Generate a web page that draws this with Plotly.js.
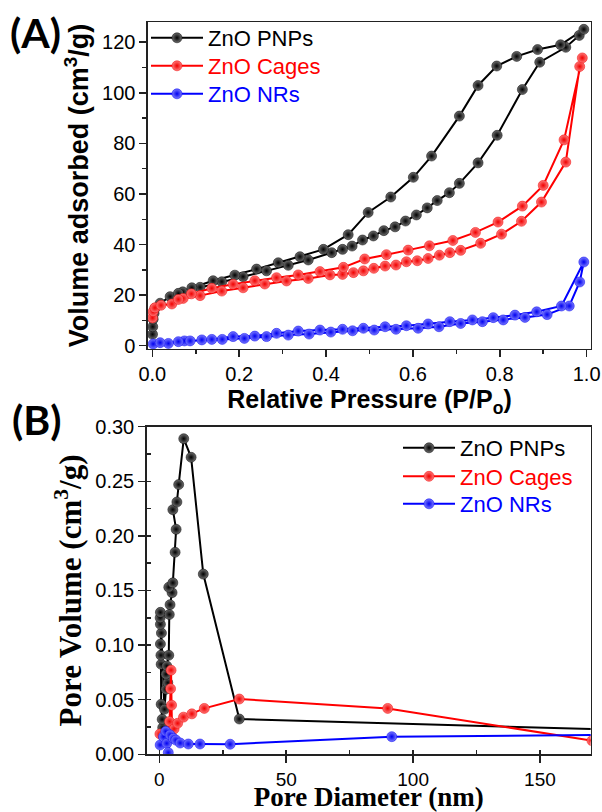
<!DOCTYPE html>
<html>
<head>
<meta charset="utf-8">
<script src="https://cdn.plot.ly/plotly-3.0.1.min.js"></script>
<style>html,body{margin:0;padding:0;background:#fff;}#chart{width:602px;height:812px;}</style>
</head>
<body>
<div id="chart"></div>
<script>
// ---------- Panel A: N2 isotherms (Relative pressure vs Volume adsorbed) ----------
const seriesNames = ['ZnO PNPs', 'ZnO Cages', 'ZnO NRs'];

const pnpsAdsP = [0.0005, 0.001, 0.002, 0.004, 0.006, 0.018, 0.041, 0.07, 0.11, 0.16, 0.209, 0.263, 0.313, 0.359, 0.413, 0.438, 0.460, 0.484, 0.509, 0.533, 0.559, 0.583, 0.608, 0.633, 0.656, 0.684, 0.707, 0.750, 0.794, 0.852, 0.892, 0.952, 0.983, 0.9935];
const pnpsAdsV = [4.5, 7.5, 10.5, 12.8, 14.8, 16.8, 19.4, 21.3, 23.1, 25.3, 27.3, 29.6, 31.8, 33.9, 36.8, 38.1, 39.4, 41.8, 43.4, 45.5, 47.0, 49.3, 51.7, 54.5, 57.4, 60.5, 64.2, 72.3, 83.2, 101.3, 112.1, 118.0, 122.7, 125.1];
const pnpsDesP = [0.94, 0.887, 0.839, 0.793, 0.750, 0.707, 0.643, 0.601, 0.549, 0.497, 0.451, 0.394, 0.340, 0.290, 0.240, 0.190, 0.140, 0.091, 0.060];
const pnpsDesV = [119.0, 117.1, 114.4, 110.6, 102.9, 90.8, 75.0, 66.6, 58.8, 52.7, 43.9, 38.1, 35.2, 32.8, 30.3, 27.9, 25.7, 22.9, 20.7];

const cagesAdsP = [0.0005, 0.002, 0.006, 0.02, 0.045, 0.071, 0.11, 0.16, 0.209, 0.259, 0.309, 0.359, 0.409, 0.438, 0.463, 0.486, 0.51, 0.536, 0.561, 0.585, 0.61, 0.635, 0.661, 0.685, 0.71, 0.756, 0.804, 0.850, 0.896, 0.952, 0.984, 0.990];
const cagesAdsV = [11.0, 13.5, 15.0, 16.0, 16.5, 18.7, 19.8, 21.6, 22.9, 24.4, 25.6, 26.6, 28.0, 28.2, 28.9, 29.6, 30.6, 31.5, 31.9, 33.2, 33.6, 34.5, 35.8, 36.8, 37.7, 40.5, 44.1, 49.2, 56.8, 72.6, 110.4, 113.8];
const cagesDesP = [0.948, 0.900, 0.852, 0.796, 0.744, 0.692, 0.638, 0.589, 0.539, 0.489, 0.44, 0.386, 0.336, 0.286, 0.236, 0.186, 0.137, 0.09, 0.06];
const cagesDesV = [81.4, 63.4, 55.2, 48.9, 44.8, 41.6, 39.5, 37.8, 36.0, 34.3, 31.0, 29.3, 28.0, 26.9, 25.7, 24.3, 22.7, 20.5, 18.3];

const nrsAdsP = [0.002, 0.037, 0.074, 0.114, 0.161, 0.212, 0.263, 0.313, 0.361, 0.411, 0.461, 0.511, 0.561, 0.612, 0.66, 0.71, 0.76, 0.808, 0.858, 0.909, 0.96, 0.984, 0.9935];
const nrsAdsV = [0.7, 0.9, 1.9, 2.3, 2.5, 2.9, 3.6, 4.2, 4.6, 5.4, 5.9, 6.2, 6.5, 6.9, 7.5, 8.8, 9.5, 10.2, 11.2, 12.3, 15.7, 25.2, 33.1];
const nrsDesP = [0.942, 0.885, 0.835, 0.785, 0.737, 0.685, 0.635, 0.585, 0.536, 0.486, 0.438, 0.386, 0.336, 0.286, 0.236, 0.186, 0.137, 0.087, 0.06, 0.018];
const nrsDesV = [15.7, 13.4, 12.1, 11.1, 10.2, 9.5, 8.6, 7.9, 7.5, 6.9, 6.5, 6.2, 5.8, 4.9, 3.8, 3.6, 2.5, 1.9, 1.6, 1.2];

// ---------- Panel B: pore size distribution ----------
const pnpsD = [1.6, 1.3, 1.1, 0.7, 0.7, 0.6, 0.4, 0.8, 0.4, 0.3, 0.4, 2.0, 2.6, 3.3, 2.6, 2.9, 3.7, 3.9, 4.2, 5.0, 3.7, 5.3, 6.2, 6.6, 5.3, 6.9, 7.6, 9.6, 12.5, 17.3, 31.5, 180];
const pnpsPV = [0.0198, 0.0244, 0.032, 0.0458, 0.0824, 0.0907, 0.101, 0.111, 0.119, 0.125, 0.130, 0.0412, 0.0595, 0.0656, 0.0733, 0.0809, 0.0907, 0.128, 0.137, 0.148, 0.153, 0.157, 0.185, 0.206, 0.224, 0.231, 0.247, 0.289, 0.272, 0.165, 0.0323, 0.0225];
const cagesD = [0.2, 1.5, 3.0, 4.0, 4.4, 4.6, 4.8, 5.0, 5.8, 7.2, 9.5, 12.8, 17.7, 31.5, 90.0, 170.5];
const cagesPV = [0.0186, 0.017, 0.019, 0.03, 0.06, 0.077, 0.045, 0.022, 0.0232, 0.0284, 0.034, 0.037, 0.042, 0.0506, 0.042, 0.0125];
const nrsD = [0.3, 1.6, 2.5, 2.9, 3.5, 4.2, 5.5, 6.5, 8.2, 11.4, 16.0, 27.9, 91.6, 200];
const nrsPV = [0.0085, 0.016, 0.021, 0.010, 0.0015, 0.0177, 0.0146, 0.013, 0.0103, 0.0094, 0.0094, 0.0092, 0.0161, 0.0183];

// ---------- styles ----------
const lineCols = ['#000000', '#ff0000', '#0000ff'];
const centerCols = ['#6e6e6e', '#ff7a7a', '#7a7aff'];
const edgeCols = ['#000000', '#f00000', '#0000f0'];

function mk(i, x, y, xa, ya, leg) {
  return {
    type: 'scatter', mode: 'lines+markers', x: x, y: y, xaxis: xa, yaxis: ya, legend: leg,
    name: '<span style="color:' + lineCols[i] + '">' + seriesNames[i] + '</span>',
    line: {color: lineCols[i], width: 2},
    marker: {size: 10, color: centerCols[i], gradient: {type: 'radial', color: edgeCols[i]},
             line: {color: edgeCols[i], width: 0.5}},
    cliponaxis: true
  };
}

const traces = [
  mk(0, pnpsAdsP.concat(pnpsDesP), pnpsAdsV.concat(pnpsDesV), 'x', 'y', 'legend'),
  mk(1, cagesAdsP.concat(cagesDesP), cagesAdsV.concat(cagesDesV), 'x', 'y', 'legend2'),
  mk(2, nrsAdsP.concat(nrsDesP), nrsAdsV.concat(nrsDesV), 'x', 'y', 'legend3'),
  mk(0, pnpsD, pnpsPV, 'x2', 'y2', 'legend4'),
  mk(1, cagesD, cagesPV, 'x2', 'y2', 'legend5'),
  mk(2, nrsD, nrsPV, 'x2', 'y2', 'legend6')
];

const sans = 'Liberation Sans, Arial, sans-serif';
const serif = 'Liberation Serif, Times New Roman, serif';
const axBase = {showline: true, linewidth: 1.5, linecolor: '#222', mirror: true, showgrid: false, zeroline: false,
                ticks: 'outside', ticklen: 7, tickwidth: 1.5, tickcolor: '#222'};

function leg(xpx, ypx) {
  return {x: xpx / 602, y: 1 - ypx / 812, xanchor: 'left', yanchor: 'middle', bgcolor: 'rgba(0,0,0,0)',
          font: {family: sans, size: 22, color: '#000'}, itemwidth: 52};
}

const layout = {
  width: 602, height: 812,
  margin: {l: 0, r: 0, t: 0, b: 0},
  paper_bgcolor: '#fff', plot_bgcolor: '#fff',
  showlegend: true,
  xaxis: Object.assign({}, axBase, {
    domain: [0.2458, 0.9817], range: [-0.01, 1.01], anchor: 'y',
    tick0: 0, dtick: 0.2, tickformat: '.1f',
    minor: {dtick: 0.1, ticks: 'outside', ticklen: 4, tickcolor: '#222'},
    tickfont: {family: sans, size: 20, color: '#000'},
    title: {text: '<b>Relative Pressure (P/P<sub>o</sub>)</b>', font: {family: sans, size: 25, color: '#000'}, standoff: 0}
  }),
  yaxis: Object.assign({}, axBase, {
    domain: [0.5702, 0.9729], range: [-1.3, 128], anchor: 'x',
    tick0: 0, dtick: 20,
    minor: {dtick: 10, ticks: 'outside', ticklen: 4, tickcolor: '#222'},
    tickfont: {family: sans, size: 20, color: '#000'},
    title: {text: '<b>Volume adsorbed (cm<sup>3</sup>/g)</b>', font: {family: sans, size: 27, color: '#000'}, standoff: 5}
  }),
  xaxis2: Object.assign({}, axBase, {
    domain: [0.2437, 0.9812], range: [-5, 170], anchor: 'y2',
    tick0: 0, dtick: 50,
    minor: {dtick: 25, ticks: 'inside', ticklen: 4, tickcolor: '#222'},
    tickfont: {family: sans, size: 19, color: '#000'},
    title: {text: '<b>Pore Diameter (nm)</b>', font: {family: serif, size: 27, color: '#000'}, standoff: 17}
  }),
  yaxis2: Object.assign({}, axBase, {
    domain: [0.0711, 0.4745], range: [0, 0.30], anchor: 'x2',
    tick0: 0, dtick: 0.05, tickformat: '.2f',
    minor: {dtick: 0.025, ticks: 'inside', ticklen: 4, tickcolor: '#222'},
    tickfont: {family: sans, size: 20, color: '#000'},
    title: {text: '<b>Pore Volume (cm<sup>3</sup>/g)</b>', font: {family: serif, size: 31, color: '#000'}, standoff: 4}
  }),
  legend: leg(146, 38),
  legend2: leg(146, 66),
  legend3: leg(146, 94),
  legend4: leg(398, 448),
  legend5: leg(398, 476.5),
  legend6: leg(398, 504),
  annotations: [
    {text: '<b>(A)</b>', xref: 'paper', yref: 'paper', x: 8/602, y: 1 - 6/812, xanchor: 'left', yanchor: 'top',
     showarrow: false, font: {family: 'Lato, Open Sans, sans-serif', size: 41, color: '#000'}},
    {text: '<b>(B)</b>', xref: 'paper', yref: 'paper', x: 10/602, y: 1 - 393/812, xanchor: 'left', yanchor: 'top',
     showarrow: false, font: {family: 'Lato, Open Sans, sans-serif', size: 41, color: '#000'}}
  ]
};

Plotly.newPlot('chart', traces, layout, {displayModeBar: false, staticPlot: true});
</script>
</body>
</html>
